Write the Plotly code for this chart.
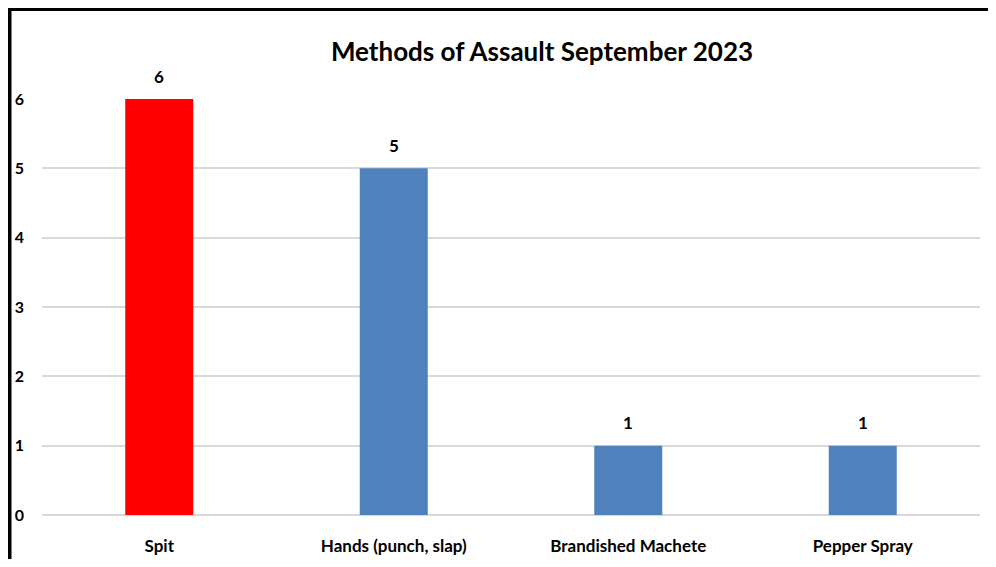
import plotly.graph_objs as go

categories = ['Spit', 'Hands (punch, slap)', 'Brandished Machete', 'Pepper Spray']
counts = [6, 5, 1, 1]
bar_colors = ['#ff0000', '#4f81bd', '#4f81bd', '#4f81bd']
y_ticks = [0, 1, 2, 3, 4, 5, 6]

# the page puts the figure 8px in from the top-left corner
OFF = 8
W, H = 996 - 2 * OFF, 567 - 2 * OFF
ml, mt = 42 - OFF, 99 - OFF
mr = (996 - 980) - OFF
mb = H - (515 - OFF)
pw, ph = W - ml - mr, H - mt - mb


def px_x(p):
    return (p - ml) / pw


def px_y(p):
    return (H - mb - p) / ph


fig = go.Figure(go.Bar(
    x=categories,
    y=counts,
    marker=dict(color=bar_colors, line=dict(width=0)),
    width=0.29,
    hoverinfo='x+y',
))

for cat, val in zip(categories, counts):
    fig.add_annotation(
        x=cat, y=val, text='<b>{}</b>'.format(val),
        showarrow=False, yshift=23, yanchor='middle',
        font=dict(family='Lato', size=17, color='#000000'),
    )

# frame lines around the picture (top rule and left edge)
fig.add_shape(type='line', xref='paper', yref='paper',
              x0=px_x(0), x1=px_x(W), y0=px_y(1), y1=px_y(1),
              line=dict(color='#000000', width=4))
fig.add_shape(type='line', xref='paper', yref='paper',
              x0=px_x(1.5), x1=px_x(1.5), y0=px_y(0), y1=px_y(H),
              line=dict(color='#000000', width=4))

fig.update_layout(
    title=dict(text='<b>Methods of Assault September 2023</b>',
               xref='container', x=(542 - OFF) / W, xanchor='center',
               yref='container', y=1 - (52 - OFF) / H, yanchor='middle',
               font=dict(family='Lato', size=26, color='#000000')),
    width=W,
    height=H,
    margin=dict(l=ml, r=mr, t=mt, b=mb, pad=0),
    showlegend=False,
    font=dict(family='Lato', color='#000000'),
    xaxis=dict(
        automargin=False,
        showgrid=False,
        showline=False,
        zeroline=False,
        ticks='',
        ticklabelstandoff=19,
        tickfont=dict(family='Lato', size=17, color='#000000', weight='bold'),
    ),
    yaxis=dict(
        automargin=False,
        range=[0, 6],
        tickvals=y_ticks,
        showgrid=True,
        gridcolor='#d9d9d9',
        gridwidth=2,
        zeroline=True,
        zerolinecolor='#d9d9d9',
        zerolinewidth=2,
        showline=False,
        ticklabelstandoff=17,
        tickfont=dict(family='Lato', size=16, color='#000000', weight='bold'),
    ),
    paper_bgcolor='rgb(255, 255, 255)',
    plot_bgcolor='rgb(255, 255, 255)',
)

fig.write_html("out.html")
